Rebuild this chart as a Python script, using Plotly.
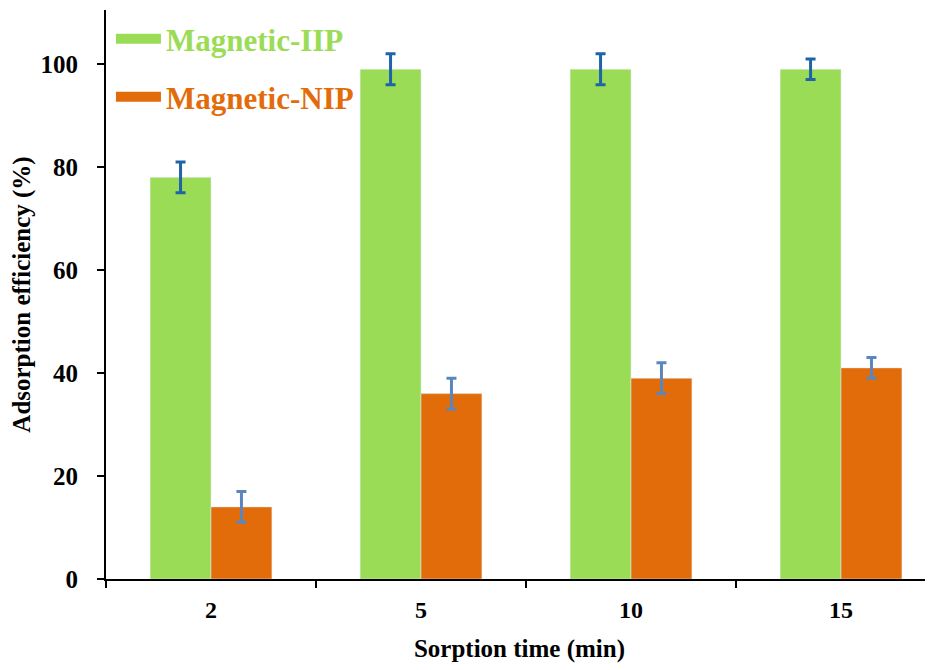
import plotly.graph_objects as go

categories = ["2", "5", "10", "15"]
iip_values = [78, 99, 99, 99]
iip_errors = [3, 3, 3, 2]
nip_values = [14, 36, 39, 41]
nip_errors = [3, 3, 3, 2]
y_ticks = [0, 20, 40, 60, 80, 100]

GREEN = "#9ADC55"
ORANGE = "#E36C0A"
FONT = "Liberation Serif"

fig = go.Figure()
fig.add_trace(go.Bar(
    x=categories, y=iip_values, name="Magnetic-IIP", marker_color=GREEN,
    error_y=dict(type="data", array=iip_errors, color="#1F63A8", thickness=3, width=5),
    showlegend=False,
))
fig.add_trace(go.Bar(
    x=categories, y=nip_values, name="Magnetic-NIP", marker_color=ORANGE,
    error_y=dict(type="data", array=nip_errors, color="#5A86BE", thickness=3, width=5),
    showlegend=False,
))
# legend entries
fig.add_trace(go.Scatter(
    x=[None], y=[None], mode="lines", line=dict(color=GREEN, width=10),
    name='<span style="color:#9ADC55">Magnetic-IIP</span>', legend="legend",
))
fig.add_trace(go.Scatter(
    x=[None], y=[None], mode="lines", line=dict(color=ORANGE, width=10),
    name='<span style="color:#E36C0A">Magnetic-NIP</span>', legend="legend2",
))

legend_common = dict(xanchor="left", yanchor="middle",
                     font=dict(family=FONT, size=31, weight="bold"),
                     itemwidth=45, bgcolor="rgba(0,0,0,0)")

# page body has an 8px default margin, so the figure is sized to fit the window
fig.update_layout(
    width=925, height=662,
    margin=dict(l=98, r=0, t=2, b=91),
    paper_bgcolor="white", plot_bgcolor="white",
    barmode="group", bargap=0.42, bargroupgap=0,
    font=dict(family=FONT, color="black"),
    legend=dict(x=0.006, y=0.949, **legend_common),
    legend2=dict(x=0.006, y=0.847, **legend_common),
    xaxis=dict(
        type="category", range=[-0.5, 3.438], tickson="boundaries",
        automargin=False,
        showline=True, linecolor="black", linewidth=2,
        ticks="outside", ticklen=7, tickwidth=2, tickcolor="black",
        ticklabelstandoff=8,
        tickfont=dict(family=FONT, size=24, weight="bold"),
        title=dict(text="<b>Sorption time (min)</b>", font=dict(family=FONT, size=25), standoff=18),
        showgrid=False, zeroline=False,
    ),
    yaxis=dict(
        range=[0, 110.5], tickvals=y_ticks,
        automargin=False,
        showline=True, linecolor="black", linewidth=2,
        ticks="outside", ticklen=7, tickwidth=2, tickcolor="black",
        ticklabelstandoff=14,
        tickfont=dict(family=FONT, size=25, weight="bold"),
        title=dict(text="<b>Adsorption efficiency (%)</b>", font=dict(family=FONT, size=25), standoff=12),
        showgrid=False, zeroline=False,
    ),
)

fig.write_html("out.html")
